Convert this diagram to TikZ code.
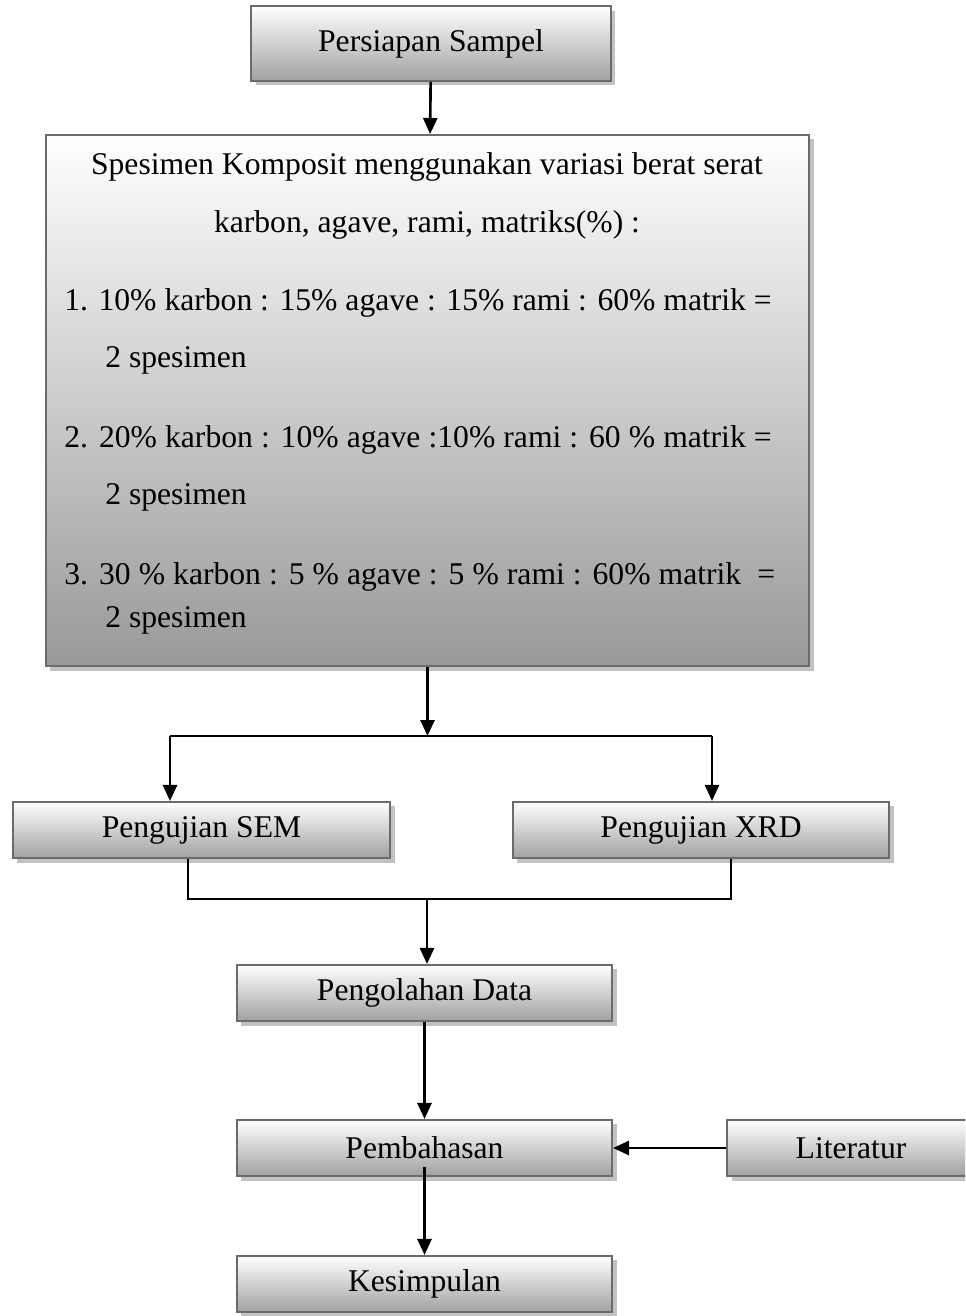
\documentclass[tikz,border=0pt]{standalone}
\usepackage{fontspec}
\setmainfont{Liberation Serif}
\usepackage{tikz}
\usepackage{xcolor}
\usetikzlibrary{arrows.meta,shadows}
\tikzset{
    flow-box/.style = {draw=black!58, line width=0.9pt, rectangle, inner sep=0pt, minimum height=1.13cm,
        top color=white, bottom color=black!37,
        drop shadow={shadow xshift=0.09cm, shadow yshift=-0.09cm, fill=black!24, opacity=1},
        font=\fontsize{18}{21.6}\selectfont},
    flow-text/.style = {inner sep=0pt, font=\fontsize{18}{21.6}\selectfont},
    flow-arrow/.style = {line width=1.5pt, -{Triangle[length=0.32cm, width=0.28cm]}},
    flow-line/.style = {line width=1.5pt},
    join-line/.style = {line width=0.8pt},
}

\begin{document}
\begin{tikzpicture}[x=0.02cm, y=-0.02cm]
\useasboundingbox (0,0) rectangle (965,1316);
\clip (0,0) rectangle (965,1316);
\node [flow-box, minimum width=7.2cm, minimum height=1.5cm] (prep) at (431,43.5) {Persiapan Sampel};
\node [flow-box, minimum width=15.27cm, minimum height=10.63cm, bottom color=black!40] (spec) at (427.5,400.5) {};
\node [flow-text] (spec-l1) at (427,167) {Spesimen Komposit menggunakan variasi berat serat};
\node [flow-text] (spec-l2) at (427,225) {karbon, agave, rami, matriks(\%) :};
\node [flow-text, anchor=west] (spec-l3) at (64,303) {\makebox[14.15cm][s]{1. 10\% karbon : 15\% agave : 15\% rami : 60\% matrik =}};
\node [flow-text, anchor=west] (spec-l4) at (105,360) {2 spesimen};
\node [flow-text, anchor=west] (spec-l5) at (64,440) {\makebox[14.15cm][s]{2. 20\% karbon : 10\% agave :10\% rami : 60 \% matrik =}};
\node [flow-text, anchor=west] (spec-l6) at (105,497) {2 spesimen};
\node [flow-text, anchor=west] (spec-l7) at (64,577) {\makebox[14.22cm][s]{3. 30 \% karbon : 5 \% agave : 5 \% rami : 60\% matrik \ =}};
\node [flow-text, anchor=west] (spec-l8) at (105,620) {2 spesimen};
\node [flow-box, minimum width=7.55cm] (sem) at (201.5,830) {Pengujian SEM};
\node [flow-box, minimum width=7.53cm] (xrd) at (701,830) {Pengujian XRD};
\node [flow-box, minimum width=7.51cm] (data) at (424.5,993) {Pengolahan Data};
\node [flow-box, minimum width=7.51cm] (pemb) at (424.5,1148) {Pembahasan};
\node [flow-box, minimum width=4.96cm] (lit) at (851,1148) {Literatur};
\node [flow-box, minimum width=7.51cm] (kes) at (424.5,1284) {Kesimpulan};

\coordinate (split) at (427.5,736);
\coordinate (split-l) at (170,736);
\coordinate (split-r) at (712,736);
\coordinate (join) at (427,899);

\draw [flow-arrow] (prep) -- (spec);
\draw [flow-arrow] (spec) -- (split);
\draw [flow-line] (split-l) -- (split-r);
\draw [flow-arrow] (split-l) -- (split-l |- sem.north);
\draw [flow-arrow] (split-r) -- (split-r |- xrd.north);
\draw [join-line] ([xshift=-0.27cm]sem.south) |- (join) -| ([xshift=0.6cm]xrd.south);
\draw [flow-arrow] (join) -- (join |- data.north);
\draw [flow-arrow] (data) -- (pemb);
\draw [flow-arrow] (lit) -- (pemb);
\draw [flow-arrow] ([yshift=0.2cm]pemb.south) -- (kes);
\end{tikzpicture}
\end{document}
